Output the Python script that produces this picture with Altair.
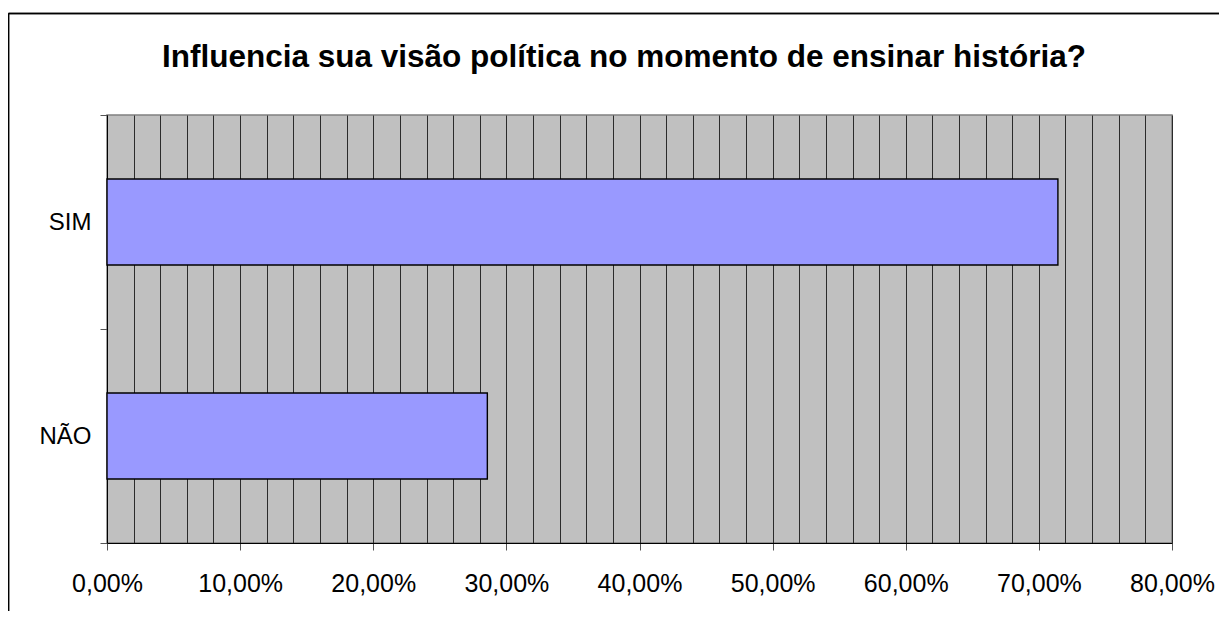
import altair as alt
import pandas as pd

categories = ["SIM", "NÃO"]
values = [0.7143, 0.2857]
grid_values = [round(i * 0.02, 2) for i in range(41)]
title_text = "Influencia sua visão política no momento de ensinar história?"

df = pd.DataFrame({"resposta": categories, "valor": values})
title_df = pd.DataFrame({"t": [title_text]})

W, H = 1065, 428
PL, PT, PR, PB = 99, 107, 47, 68

label_expr = ("round(datum.value*100) % 10 == 0 ? "
              "replace(format(datum.value*100, '.2f'), '.', ',') + '%' : ''")

bars = alt.Chart(df).mark_bar(size=86, color="#9999FF", stroke="#000000", strokeWidth=1.4).encode(
    x=alt.X("valor:Q",
            scale=alt.Scale(domain=[0, 0.8], nice=False, zero=True),
            axis=alt.Axis(values=grid_values, title=None, grid=True,
                          gridColor="#2b2b2b", gridWidth=1, gridOpacity=1,
                          labelExpr=label_expr, labelOverlap=False, labelFlush=False,
                          labelFont="Liberation Sans", labelFontSize=25,
                          labelColor="#000000", labelPadding=21,
                          tickSize=7, tickColor="#555555",
                          tickOpacity={"condition": {"test": "round(datum.value*100) % 10 == 0", "value": 1}, "value": 0},
                          domainColor="#000000", domainWidth=1)),
    y=alt.Y("resposta:N", sort=categories,
            scale=alt.Scale(paddingInner=0, paddingOuter=0),
            axis=alt.Axis(title=None, tickBand="extent", tickSize=7, tickColor="#555555",
                          labelFont="Liberation Sans", labelFontSize=24,
                          labelColor="#000000", labelPadding=9,
                          domainColor="#000000", domainWidth=1)),
)

title = alt.Chart(title_df).mark_text(
    font="Liberation Sans", fontSize=31.5, fontWeight="bold", color="#000000",
    align="center", baseline="alphabetic"
).encode(text="t:N", x=alt.value(517), y=alt.value(-48))

border_left = alt.Chart(df).mark_rule(color="#000000", strokeWidth=1.5).encode(
    x=alt.value(-98.5), y=alt.value(-101.5), y2=alt.value(H + PB)
)
border_top = alt.Chart(df).mark_rule(color="#000000", strokeWidth=1.5).encode(
    x=alt.value(-98.5), x2=alt.value(W + PR), y=alt.value(-101.5)
)

chart = alt.layer(bars, title, border_left, border_top).properties(
    width=W, height=H,
    autosize=alt.AutoSizeParams(type="none"),
    padding={"left": PL, "top": PT, "right": PR, "bottom": PB},
    background="#FFFFFF",
).configure_view(
    fill="#C0C0C0", stroke="#808080", strokeWidth=1.5
)

chart.save("out.html", embed_options={"renderer": "svg", "actions": False})
